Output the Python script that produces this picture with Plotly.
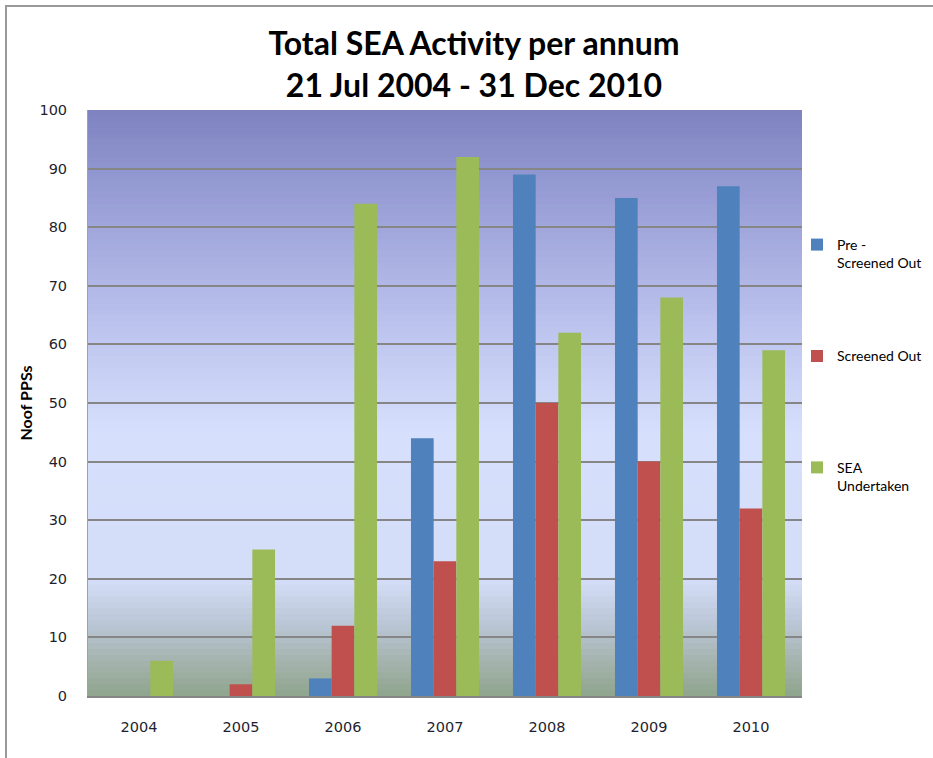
import plotly.graph_objects as go

years = ["2004", "2005", "2006", "2007", "2008", "2009", "2010"]
pre_screened_out = [0, 0, 3, 44, 89, 85, 87]
screened_out = [0, 2, 12, 23, 50, 40, 32]
sea_undertaken = [6, 25, 84, 92, 62, 68, 59]

series_names = ["Pre -<br>Screened Out", "Screened Out<br>\u00a0", "SEA<br>Undertaken"]
series_colors = ["#4F81BD", "#C0504D", "#9BBB59"]

W, H = 933, 758
ML, MR, MT, MB = 88, 131, 110, 62

fig = go.Figure()
for name, vals, col in zip(series_names, [pre_screened_out, screened_out, sea_undertaken], series_colors):
    fig.add_trace(go.Bar(x=years, y=vals, name=name, marker=dict(color=col, line=dict(width=0)),
                         legendgroup=name))

# background vertical gradient built from thin strips
stops = [(0, (143, 165, 140)), (6, (165, 180, 175)), (12, (185, 197, 212)), (20, (212, 222, 248)),
         (45, (214, 223, 252)), (65, (185, 192, 236)), (85, (152, 158, 213)), (100, (126, 131, 192))]

def col_at(v):
    for (a, ca), (b, cb) in zip(stops[:-1], stops[1:]):
        if a <= v <= b:
            t = (v - a) / (b - a)
            return tuple(int(round(ca[i] + (cb[i] - ca[i]) * t)) for i in range(3))
    return stops[-1][1]

shapes = []
n = 100
for i in range(n):
    y0 = i * 100 / n
    y1 = min(100, (i + 1) * 100 / n + 1.0)
    c = col_at(y0 + 0.5)
    shapes.append(dict(type="rect", xref="x domain", yref="y", x0=0, x1=1, y0=y0, y1=y1,
                       fillcolor="rgb(%d,%d,%d)" % c, line=dict(width=0), layer="below"))

pw = W - ML - MR
ph = H - MT - MB
def px(x):
    return (x - ML) / pw
def py(y):
    return (H - MB - y) / ph

shapes.append(dict(type="rect", xref="paper", yref="paper", x0=px(6), x1=px(960), y0=py(6), y1=py(790),
                   line=dict(color="#9A9A9A", width=2), fillcolor="rgba(0,0,0,0)", layer="above"))

fig.update_layout(
    width=W, height=H,
    margin=dict(l=ML, r=MR, t=MT, b=MB, autoexpand=False),
    paper_bgcolor="white",
    plot_bgcolor="#D5DEFB",
    barmode="group", bargap=0.333, bargroupgap=0,
    shapes=shapes,
    title=dict(text="<b>Total SEA Activity per annum<br>21 Jul 2004 - 31 Dec 2010</b>",
               x=474 / W, xanchor="center", y=1 - 55 / H, yanchor="middle",
               font=dict(family="Lato, Open Sans, sans-serif", size=32, color="#000000")),
    font=dict(family="DejaVu Sans, Verdana, sans-serif", size=14, color="#1F1F2F"),
    legend=dict(x=px(797), xanchor="left", y=py(229), yanchor="top", tracegroupgap=72,
                font=dict(family="Lato, Open Sans, sans-serif", size=14, color="#000000"),
                bgcolor="rgba(0,0,0,0)", itemwidth=30, valign="top", traceorder="grouped"),
    xaxis=dict(showgrid=False, showline=True, linecolor="#868686", linewidth=2, automargin=False,
               ticks="", ticklabelstandoff=17, tickfont=dict(size=14.5)),
    yaxis=dict(range=[0, 100], dtick=10, showgrid=True, gridcolor="#868686", gridwidth=1.5,
               showline=True, linecolor="#A0A0A0", linewidth=1, ticks="", ticklabelstandoff=17,
               zeroline=False, tickfont=dict(size=14.5), automargin=False,
               title=dict(text="<b>Noof PPSs</b>", standoff=2,
                          font=dict(family="Lato, Open Sans, sans-serif", size=16, color="#000000"))),
)

fig.write_html("out.html", config={"displayModeBar": False},
               post_script="document.body.style.margin='0';")
